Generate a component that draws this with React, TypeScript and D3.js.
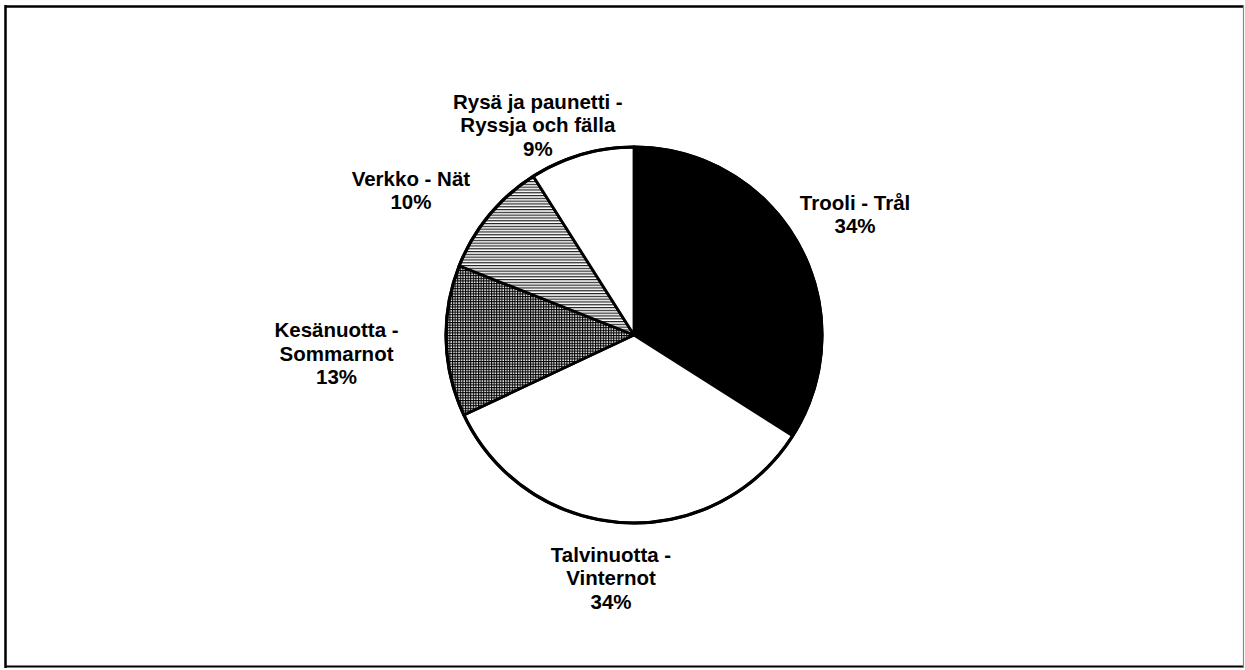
import React, { useEffect } from "react";
import * as d3 from "d3";

// ---- data ----
const categories = [
  "Trooli - Trål",
  "Talvinuotta - Vinternot",
  "Kesänuotta - Sommarnot",
  "Verkko - Nät",
  "Rysä ja paunetti - Ryssja och fälla",
];
const values = [34, 34, 13, 10, 9];
const labelLines = [
  ["Trooli - Trål", "34%"],
  ["Talvinuotta -", "Vinternot", "34%"],
  ["Kesänuotta -", "Sommarnot", "13%"],
  ["Verkko - Nät", "10%"],
  ["Rysä ja paunetti -", "Ryssja och fälla", "9%"],
];

// ---- layout ----
const W = 1245;
const H = 670;
const CX = 634;
const CY = 335;
const R = 188;
const labelDist = [252, 244, 298, 266, 231];
const labelAngle = [61.3, 185.4, 266.5, 303, 335.4];
const fills = ["#000", "#fff", "url(#grid)", "url(#hstripe)", "#fff"];
const LINE_H = 23.5;

export default function App() {
  useEffect(() => {
    document.body.style.margin = "0";
  }, []);

  const pie = d3.pie<number>().sort(null).value((d) => d);
  const arcs = pie(values);
  const arcGen = d3.arc<d3.PieArcDatum<number>>().innerRadius(0).outerRadius(R);

  return (
    <svg
      width={W}
      height={H}
      style={{ position: "absolute", left: 0, top: 0, background: "#fff" }}
      fontFamily="'Liberation Sans', Arial, sans-serif"
    >
      <defs>
        <pattern id="grid" width="2.6" height="2.6" patternUnits="userSpaceOnUse">
          <rect width="2.6" height="2.6" fill="#fff" />
          <rect width="2.6" height="1.1" fill="#000" />
          <rect width="1.1" height="2.6" fill="#000" />
        </pattern>
        <pattern id="hstripe" width="4" height="2.8" patternUnits="userSpaceOnUse">
          <rect width="4" height="2.8" fill="#fff" />
          <rect width="4" height="1.2" fill="#222" />
        </pattern>
      </defs>
      {/* frame */}
      <line x1={5} y1={6.5} x2={1244} y2={6.5} stroke="#000" strokeWidth={2.5} />
      <line x1={5.5} y1={5} x2={5.5} y2={668} stroke="#000" strokeWidth={2.5} />
      <line x1={5} y1={666.5} x2={1244} y2={666.5} stroke="#000" strokeWidth={2} />
      <line x1={1243.5} y1={5} x2={1243.5} y2={668} stroke="#888" strokeWidth={1.2} />

      <g transform={`translate(${CX},${CY})`}>
        {arcs.map((a, i) => (
          <path
            key={categories[i]}
            d={arcGen(a) || ""}
            fill={fills[i]}
            stroke="#000"
            strokeWidth={2.8}
            strokeLinejoin="round"
          />
        ))}
        <circle r={R} fill="none" stroke="#000" strokeWidth={3.2} />
      </g>

      {labelLines.map((lines, i) => {
        const th = (labelAngle[i] * Math.PI) / 180;
        const x = CX + labelDist[i] * Math.sin(th);
        const y = CY - labelDist[i] * Math.cos(th);
        const n = lines.length;
        return (
          <text
            key={categories[i]}
            x={x}
            y={y}
            textAnchor="middle"
            fontWeight="bold"
            fontSize={20.5}
            fill="#000"
          >
            {lines.map((l, j) => (
              <tspan key={j} x={x} y={y + (j - (n - 1) / 2) * LINE_H} dy="0.36em">
                {l}
              </tspan>
            ))}
          </text>
        );
      })}
    </svg>
  );
}
